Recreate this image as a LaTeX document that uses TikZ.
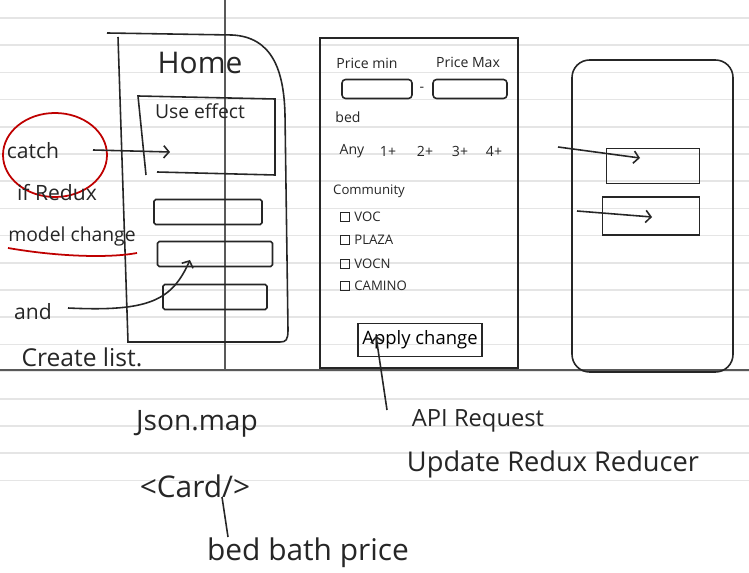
\documentclass[tikz,border=0pt]{standalone}
\usepackage{fontspec}
\setmainfont{Open Sans}
\usetikzlibrary{arrows.meta}

\tikzset{
	pen/.style={line width=0.9pt, draw=black!85},
	redpen/.style={line width=1pt, draw=red!75!black},
	ruling/.style={line width=1pt, draw=black!10},
	hand/.style={inner sep=0pt, text=black!85, font=\fontsize{#1}{#1}\selectfont},
	row/.style={pen, minimum height=0.5cm, inner sep=0pt, rounded corners=1pt},
	field/.style={pen, minimum height=0.38cm, inner sep=0pt, rounded corners=2pt},
	tickbox/.style={pen, line width=0.6pt, minimum size=5pt, inner sep=0pt},
}

\begin{document}
\begin{tikzpicture}[x=0.02cm, y=-0.02cm, >={Straight Barb[length=3pt, width=7pt]}]

	\useasboundingbox (0,0) rectangle (749,573);
	\fill[white] (0,0) rectangle (749,573);

	% ruled paper
	\foreach \y in {18,45.2,...,481} \draw[ruling] (0,\y) -- (749,\y);
	\draw[line width=1pt, black!65] (225,0) -- (225,370);
	\draw[line width=1pt, black!65] (0,370) -- (749,370);

	% home screen
	\draw[pen] (107,33) -- (232,35) .. controls (272,37) and (284,70) .. (285,115) -- (288,330) .. controls (288,340) and (286,342) .. (280,342) -- (128,342) -- (118,37);
	\node[hand=17] (home) at (200,63) {Home};

	\draw[pen] (146,175) -- (138,96) -- (275,99) -- (275,175) -- (157,172);
	\node[hand=11] (effect) at (200,111) {Use effect};
	\coordinate (effectin) at (170,152);

	\node[row, minimum width=2.16cm] (row1) at (208,212) {};
	\node[row, minimum width=2.3cm] (row2) at (215,254) {};
	\node[row, minimum width=2.08cm] (row3) at (215,297) {};
	\coordinate (rowin) at (190,260);

	% notes on the left
	\node[hand=12] (catch) at (33,151) {catch};
	\draw[redpen] (55,155) ellipse [x radius=52, y radius=42];
	\coordinate (catchtail) at (93,150);
	\draw[pen, ->] (catchtail) -- (effectin);

	\node[hand=12] (ifredux) at (57,193) {if Redux};
	\node[hand=11] (model) at (72,236) {model change};
	\draw[redpen] (8,248) .. controls (60,257) and (110,258) .. (137,253);

	\node[hand=12] (and) at (33,312) {and};
	\node[hand=14] (create) at (82,357) {Create list.};
	\coordinate (andtail) at (68,308);
	\draw[pen, ->] (andtail) .. controls (150,312) and (172,300) .. (rowin);

	% filter screen
	\draw[pen] (320,38) rectangle (518,368);
	\node[hand=8] (pricemin) at (367,63) {Price min};
	\node[hand=8] (pricemax) at (468,62) {Price Max};
	\node[field, minimum width=1.4cm] (minbox) at (377,89) {};
	\node[hand=8] (dash) at (422,89) {-};
	\node[field, minimum width=1.48cm] (maxbox) at (470,89) {};

	\node[hand=8] (bed) at (348,117) {bed};
	\foreach \t/\x [count=\i] in {Any/352, 1+/388, 2+/425, 3+/460, 4+/494}
		\node[hand=8] (beds\i) at (\x,151) {\t};

	\node[hand=7.5] (community) at (369,191) {Community};
	\foreach \t/\y [count=\i] in {VOC/217, PLAZA/240, VOCN/264, CAMINO/286} {
		\node[tickbox] (tick\i) at (345,\y) {};
		\node[hand=7.5, anchor=west] (place\i) at (354,\y) {\t};
	}

	\node[pen, minimum width=2.48cm, minimum height=0.66cm, inner sep=0pt, font=\fontsize{10.5}{10.5}\selectfont] (apply) at (420,340) {Apply change};
	\coordinate (applyin) at (376,336);

	% list screen
	\draw[pen, rounded corners=10pt] (572,60) rectangle (733,372);
	\node[pen, minimum width=1.86cm, minimum height=0.7cm] (cardA) at (653,166) {};
	\node[pen, minimum width=1.94cm, minimum height=0.76cm] (cardB) at (651,216) {};
	\coordinate (tailA) at (558,147);
	\coordinate (tipA) at (640,158);
	\coordinate (tailB) at (577,211);
	\coordinate (tipB) at (652,217);
	\draw[pen, ->] (tailA) -- (tipA);
	\draw[pen, ->] (tailB) -- (tipB);

	% below the line
	\node[hand=16] (jsonmap) at (197,424) {Json.map};
	\node[hand=17] (card) at (195,486) {<Card/>};
	\node[hand=17] (fields) at (308,553) {bed bath price};
	\coordinate (cardstem) at (222,497);
	\coordinate (fieldstop) at (228,537);
	\draw[pen] (cardstem) -- (fieldstop);

	\node[hand=13.5] (api) at (478,421) {API Request};
	\node[hand=15.5] (reducer) at (553,464) {Update Redux Reducer};
	\coordinate (apitail) at (387,410);
	\draw[pen, ->] (apitail) -- (applyin);

\end{tikzpicture}
\end{document}
